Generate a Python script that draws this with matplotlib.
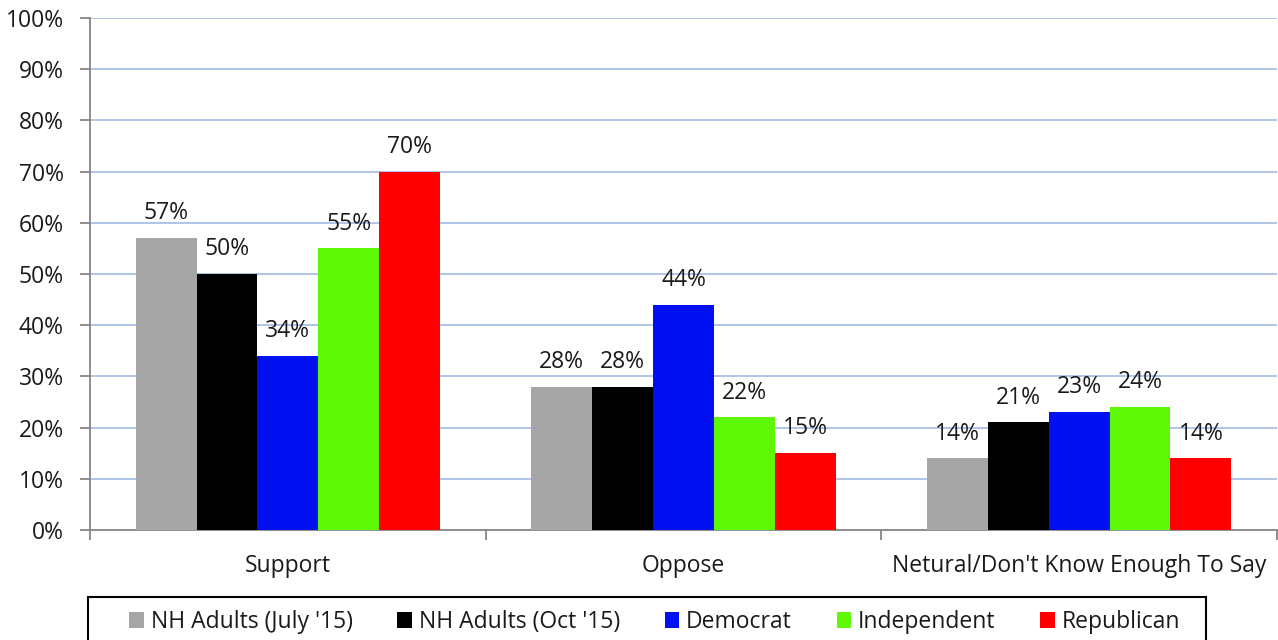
import matplotlib
matplotlib.use("Agg")
import matplotlib.pyplot as plt
import numpy as np
from matplotlib.patches import Patch, Rectangle

plt.rcParams['font.family'] = ['Open Sans', 'DejaVu Sans']

categories = ["Support", "Oppose", "Netural/Don't Know Enough To Say"]
series_names = ["NH Adults (July '15)", "NH Adults (Oct '15)", "Democrat", "Independent", "Republican"]
july15 = [57, 28, 14]
oct15 = [50, 28, 21]
democrat = [34, 44, 23]
independent = [55, 22, 24]
republican = [70, 15, 14]
series_values = [july15, oct15, democrat, independent, republican]
colors = ["#A6A6A6", "#000000", "#0010F0", "#5EF706", "#FF0000"]
yticks = [0, 10, 20, 30, 40, 50, 60, 70, 80, 90, 100]
ytick_labels = [f"{v}%" for v in yticks]

FS = 16.5
TXT = "#1a1a1a"
W, H = 1278, 640

fig = plt.figure(figsize=(12.78, 6.4), dpi=100)
ax = fig.add_axes([90 / W, 1 - 530 / H, 1187 / W, 512 / H])

x = np.arange(len(categories))
n = len(series_values)
bw = 1 / (n + 1.5)
for i, (vals, col) in enumerate(zip(series_values, colors)):
    pos = x + (i - (n - 1) / 2) * bw
    ax.bar(pos, vals, width=bw, color=col, zorder=3)
    for px, v in zip(pos, vals):
        ax.annotate(f"{v}%", (px, v), xytext=(0, 13.5), textcoords="offset points",
                    ha="center", va="baseline", fontsize=FS, color=TXT)

ax.set_xlim(-0.5, len(categories) - 0.5)
ax.set_ylim(0, 100)
ax.set_yticks(yticks)
ax.set_yticklabels(ytick_labels, fontsize=FS, color=TXT)
ax.yaxis.grid(True, color="#A9BFE6", linewidth=1.3, zorder=0)
ax.set_axisbelow(True)

ax.set_xticks(x)
ax.set_xticklabels(categories, fontsize=FS, color=TXT)
ax.set_xticks(np.arange(-0.5, len(categories), 1.0), minor=True)
ax.tick_params(axis='x', which='major', length=0, pad=17)
ax.tick_params(axis='x', which='minor', length=7, width=1.3, color="#868686", direction='out')
ax.tick_params(axis='y', length=7, width=1.3, color="#868686", direction='out', pad=12)

for s in ["top", "right"]:
    ax.spines[s].set_visible(False)
for s in ["left", "bottom"]:
    ax.spines[s].set_color("#868686")
    ax.spines[s].set_linewidth(1.3)

# legend box (extends below the figure edge as in the reference)
fig.patches.append(Rectangle((88 / W, 1 - 670 / H), (1206 - 88) / W, (670 - 597) / H,
                             transform=fig.transFigure, facecolor="none", edgecolor="black",
                             linewidth=1.5, figure=fig))

handles = [Patch(facecolor=c, edgecolor='none') for c in colors]
leg = fig.legend(handles, series_names, loc="center left", bbox_to_anchor=(129 / W, 1 - 622 / H),
                 ncol=5, fontsize=FS, frameon=False,
                 handlelength=0.64, handleheight=0.64, handletextpad=0.3, columnspacing=1.95,
                 borderpad=0, borderaxespad=0, labelcolor=TXT)

fig.savefig("out.png", dpi=100)
